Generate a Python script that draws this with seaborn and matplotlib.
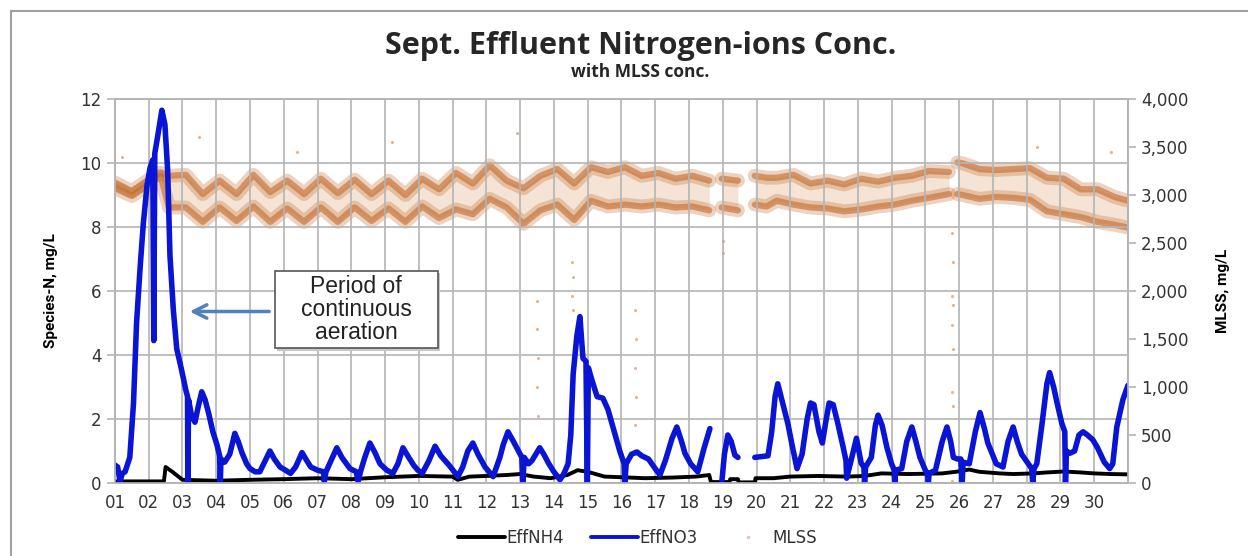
import numpy as np
import pandas as pd
import seaborn as sns
import matplotlib.pyplot as plt
from matplotlib.lines import Line2D
from matplotlib.patches import Rectangle
from matplotlib.ticker import StrMethodFormatter

# EffNO3, mg/L  (day of month, value); NaN = gap in record
no3_day = [1.00, 1.08, 1.15, 1.22, 1.30, 1.44, 1.55, 1.64, 1.75, 1.84, 1.95, 2.04, 2.12, 2.15, 2.18,
           2.26, 2.39, 2.48, 2.56, 2.63, 2.73, 2.83, 2.98, 3.10, 3.15, 3.16, 3.18, 3.27, 3.37, 3.47,
           3.57, 3.67, 3.77, 3.90, 4.02, 4.10, 4.12, 4.14, 4.25, 4.40, 4.55, 4.65, 4.76, 4.90, 5.00,
           5.15, 5.29, 5.45, 5.59, 5.72, 5.89, 6.05, 6.20, 6.35, 6.54, 6.68, 6.80, 7.00, 7.18, 7.20,
           7.25, 7.40, 7.57, 7.72, 7.96, 8.15, 8.20, 8.27, 8.40, 8.55, 8.70, 8.85, 9.05, 9.23, 9.38,
           9.53, 9.70, 9.85, 9.97, 10.10, 10.30, 10.48, 10.65, 10.90, 11.05, 11.16, 11.30, 11.45, 11.60,
           11.75, 11.96, 12.20, 12.40, 12.50, 12.64, 12.80, 13.05, 13.08, 13.12, 13.25, 13.35, 13.58,
           13.70, 13.85, 14.00, 14.18, 14.30, 14.42, 14.50, 14.57, 14.68, 14.77, 14.86, 14.95, 14.99,
           15.02, 15.13, 15.28, 15.45, 15.60, 15.80, 15.95, 16.08, 16.10, 16.14, 16.30, 16.46, 16.60,
           16.80, 17.00, 17.14, 17.30, 17.50, 17.64, 17.78, 17.88, 18.05, 18.26, 18.45, 18.62, 18.80,
           18.97, 19.05, 19.15, 19.25, 19.36, 19.45, 19.70,
           19.95, 20.34, 20.45, 20.55, 20.63, 20.75, 20.93, 21.05, 21.20, 21.35, 21.50, 21.60, 21.70,
           21.85, 21.95, 22.05, 22.15, 22.27, 22.40, 22.56, 22.65, 22.67, 22.80, 22.96, 23.10, 23.18,
           23.20, 23.23, 23.40, 23.52, 23.60, 23.72, 23.86, 24.00, 24.08, 24.10, 24.12, 24.30, 24.45,
           24.60, 24.72, 24.84, 25.00, 25.07, 25.09, 25.11, 25.30, 25.50, 25.64, 25.75, 25.83, 25.95,
           26.05, 26.09, 26.12, 26.30, 26.48, 26.62, 26.75, 26.85, 27.10, 27.30, 27.45, 27.60, 27.72,
           27.85, 28.05, 28.15, 28.18, 28.22, 28.30, 28.45, 28.60, 28.68, 28.80, 28.88, 29.04, 29.13,
           29.15, 29.18, 29.28, 29.42, 29.55, 29.67, 29.80, 29.96, 30.10, 30.30, 30.46, 30.55, 30.67,
           30.85, 31.00]
no3_val = [0.56, 0.50, 0.05, 0.30, 0.35, 0.80, 2.5, 5.0, 6.8, 8.1, 9.3, 9.85, 10.1, 4.45, 10.3,
           10.8, 11.65, 11.2, 9.8, 7.1, 5.4, 4.2, 3.5, 2.9, 2.7, 0.0, 2.6, 2.1, 1.9, 2.4,
           2.85, 2.6, 2.2, 1.6, 1.2, 0.85, 0.0, 0.75, 0.65, 0.9, 1.55, 1.3, 0.95, 0.6, 0.45,
           0.35, 0.35, 0.7, 1.0, 0.75, 0.5, 0.4, 0.3, 0.5, 0.95, 0.7, 0.5, 0.4, 0.35, 0.05,
           0.35, 0.7, 1.1, 0.8, 0.45, 0.35, 0.05, 0.35, 0.8, 1.25, 0.95, 0.6, 0.4, 0.3, 0.6,
           1.1, 0.8, 0.55, 0.4, 0.3, 0.7, 1.15, 0.85, 0.55, 0.35, 0.2, 0.5, 1.0, 1.25,
           0.9, 0.5, 0.2, 0.8, 1.2, 1.6, 1.3, 0.8, 0.0, 0.8, 0.6, 0.7, 1.1,
           0.9, 0.6, 0.35, 0.1, 0.3, 0.6, 1.5, 3.4, 4.6, 5.2, 3.9, 3.8, 0.0,
           3.6, 3.2, 2.7, 2.65, 2.3, 1.55, 1.0, 0.6, 0.0, 0.6, 0.9, 0.97, 0.85,
           0.75, 0.45, 0.25, 0.7, 1.4, 1.75, 1.3, 0.93, 0.6, 0.35, 1.1, 1.7, np.nan,
           0.0, 0.9, 1.5, 1.3, 0.87, 0.8, np.nan,
           0.8, 0.85, 1.6, 2.7, 3.1, 2.6, 1.85, 1.2, 0.45, 0.9, 2.0, 2.5, 2.45,
           1.6, 1.25, 1.9, 2.5, 2.45, 1.9, 1.15, 0.7, 0.15, 0.7, 1.4, 0.62, 0.5,
           0.0, 0.5, 0.8, 1.8, 2.12, 1.8, 1.12, 0.6, 0.4, 0.0, 0.4, 0.45, 1.3,
           1.75, 1.3, 0.8, 0.4, 0.25, 0.0, 0.3, 0.4, 1.3, 1.75, 1.3, 0.8, 0.75,
           0.75, 0.0, 0.65, 0.6, 1.6, 2.2, 1.7, 1.25, 0.6, 0.5, 1.3, 1.75, 1.3,
           0.9, 0.6, 0.45, 0.0, 0.45, 0.6, 1.8, 3.1, 3.45, 3.0, 2.6, 1.87, 1.6,
           0.0, 1.0, 0.93, 1.0, 1.5, 1.6, 1.5, 1.35, 1.1, 0.65, 0.45, 0.6, 1.75,
           2.6, 3.05]

# EffNH4, mg/L
nh4_day = [1.0, 2.45, 2.5, 2.7, 3.0, 4.0, 5.0, 6.0, 7.0, 8.0, 9.0, 9.5, 10.0, 11.0, 11.15, 11.5,
           12.0, 12.6, 13.0, 13.4, 13.9, 14.4, 14.7, 15.0, 15.5, 16.0, 16.7, 17.5, 18.2, 18.6,
           18.65, 19.2, 19.22, 19.45, 19.47, 19.95, 19.97, 20.5, 21.0, 21.8, 22.7, 23.2, 23.7,
           24.5, 25.5, 25.9, 26.3, 26.6, 27.2, 27.6, 28.2, 28.6, 29.1, 29.6, 30.0, 30.5, 31.0]
nh4_val = [0.05, 0.05, 0.5, 0.35, 0.1, 0.07, 0.1, 0.12, 0.15, 0.12, 0.18, 0.2, 0.22, 0.2, 0.1, 0.2,
           0.22, 0.25, 0.28, 0.2, 0.15, 0.25, 0.4, 0.35, 0.2, 0.18, 0.15, 0.17, 0.2, 0.25,
           0.03, 0.03, 0.12, 0.12, 0.02, 0.02, 0.15, 0.15, 0.2, 0.22, 0.2, 0.22, 0.3,
           0.28, 0.3, 0.35, 0.42, 0.35, 0.3, 0.28, 0.3, 0.33, 0.36, 0.33, 0.3, 0.28, 0.27]

# MLSS, mg/L: upper and lower edges of the two-cluster band
mlss_day = [1.0, 1.5, 2.0, 2.35, 2.6, 3.1, 3.6, 4.1, 4.6, 5.1, 5.6, 6.1, 6.6, 7.1, 7.6, 8.1, 8.6,
            9.1, 9.6, 10.1, 10.6, 11.1, 11.6, 12.1, 12.6, 13.1, 13.6, 14.1, 14.6, 15.1, 15.6,
            16.1, 16.6, 17.1, 17.6, 18.1, 18.6, 18.8, 18.97, 19.45, 19.7, 19.95, 20.3, 20.6, 21.1,
            21.6, 22.1, 22.6, 23.1, 23.6, 24.1, 24.6, 25.1, 25.7, 25.82, 25.95, 26.1, 26.6, 27.1,
            27.6, 28.1, 28.6, 29.1, 29.6, 30.1, 30.6, 31.0]
mlss_hi = [3130, 3040, 3160, 3230, 3200, 3210, 3010, 3150, 3010, 3210, 3030, 3150, 3010, 3170, 3020,
           3160, 3010, 3150, 3000, 3170, 3060, 3230, 3120, 3310, 3150, 3070, 3200, 3270, 3120, 3290,
           3240, 3290, 3200, 3230, 3170, 3200, 3150, np.nan, 3170, 3150, np.nan, 3200, 3180, 3180,
           3210, 3120, 3150, 3110, 3170, 3140, 3180, 3200, 3250, 3240, np.nan, 3340, 3330, 3270,
           3260, 3270, 3280, 3180, 3170, 3060, 3060, 2980, 2940]
mlss_lo = [3070, 2990, 3110, 3200, 2870, 2870, 2720, 2870, 2730, 2880, 2720, 2860, 2720, 2870, 2720,
           2870, 2730, 2860, 2720, 2880, 2760, 2850, 2800, 2960, 2870, 2700, 2840, 2900, 2740, 2940,
           2880, 2900, 2880, 2900, 2870, 2880, 2840, np.nan, 2870, 2840, np.nan, 2900, 2880, 2940,
           2900, 2870, 2860, 2830, 2850, 2880, 2900, 2940, 2970, 3010, np.nan, 3010, 3000, 2960,
           2980, 2970, 2950, 2830, 2800, 2770, 2720, 2690, 2660]

# scattered MLSS readings away from the band
out_day = [1.2, 3.5, 6.4, 9.2, 12.9, 13.5, 13.5, 13.52, 13.5, 13.52, 14.55, 14.57, 14.55, 14.57,
           16.4, 16.42, 16.4, 16.42, 16.4, 16.42, 19.0, 19.02, 25.8, 25.82, 25.8, 25.82, 25.8,
           25.82, 25.8, 25.82, 25.8, 28.3, 30.5]
out_val = [3400, 3600, 3450, 3550, 3650, 1900, 1600, 1300, 1000, 700, 2300, 2150, 1950, 1800,
           1800, 1500, 1200, 900, 600, 300, 2520, 2400, 2600, 2300, 1950, 1850, 1650, 1400, 950,
           800, 25, 3500, 3450]

day_ticks = list(range(1, 31))
day_labels = [f'{d:02d}' for d in day_ticks]


def segments(days, vals):
    seg, s = [], 0
    for v in vals:
        if np.isnan(v):
            s += 1
        seg.append(s)
    return pd.DataFrame({'day': days, 'val': vals, 'seg': seg}).dropna()


sns.set_theme(style='white')
plt.rcParams['font.family'] = ['DejaVu Sans']

fig = plt.figure(figsize=(12.48, 5.56), dpi=100)
ax = fig.add_axes([0.0921, 0.1313, 0.8117, 0.6906])
ax2 = ax.twinx()
ax.set_zorder(ax2.get_zorder() + 1)
ax.patch.set_visible(False)

grid_c = '#b4b4b4'
brown = '#c26a2c'

# MLSS band on right axis
hi = segments(mlss_day, mlss_hi)
lo = segments(mlss_day, mlss_lo)
band = hi.merge(lo, on=['day', 'seg'], suffixes=('_hi', '_lo'))
for s, g in band.groupby('seg'):
    ax2.fill_between(g['day'], g['val_lo'], g['val_hi'], color='#efd2bb', alpha=0.6, lw=0)
for df in (hi, lo):
    sns.lineplot(data=df, x='day', y='val', units='seg', estimator=None, sort=False,
                 ax=ax2, color=brown, lw=10, alpha=0.3)
    sns.lineplot(data=df, x='day', y='val', units='seg', estimator=None, sort=False,
                 ax=ax2, color=brown, lw=4.5, alpha=0.6)
sns.scatterplot(x=out_day, y=out_val, ax=ax2, color=brown, s=5, alpha=0.5, lw=0)

# nitrogen species on left axis
nh4 = pd.DataFrame({'day': nh4_day, 'val': nh4_val})
sns.lineplot(data=nh4, x='day', y='val', ax=ax, color='black', lw=2.8, sort=False)
no3 = segments(no3_day, no3_val)
sns.lineplot(data=no3, x='day', y='val', units='seg', estimator=None, sort=False,
             ax=ax, color='#0a14d4', lw=4)

ax.set_xlim(1, 31)
ax.set_ylim(0, 12)
ax.set_yticks(range(0, 13, 2))
ax.set_xticks(range(1, 32))
ax.set_xticklabels(day_labels + [''])
ax.grid(True, color=grid_c, lw=1.2)
ax2.set_ylim(0, 4000)
ax2.set_yticks(range(0, 4001, 500))
ax2.yaxis.set_major_formatter(StrMethodFormatter('{x:,.0f}'))

for a in (ax, ax2):
    for sp in a.spines.values():
        sp.set_color(grid_c)
        sp.set_linewidth(1.2)
    a.tick_params(colors=grid_c, labelcolor='#333333', labelsize=12, length=6, width=1.2)
ax.tick_params(axis='x', length=4, pad=4)

ax.set_xlabel('')
ax2.set_xlabel('')
lab_font = ['Roboto', 'DejaVu Sans']
ax.set_ylabel('Species-N, mg/L', fontsize=11, fontweight='bold', color='black',
              family=lab_font, labelpad=16)
ax2.set_ylabel('MLSS, mg/L', fontsize=11, fontweight='bold', color='black', rotation=90,
               family=lab_font, labelpad=20)

fig.text(0.513, 0.918, 'Sept. Effluent Nitrogen-ions Conc.', ha='center', va='center',
         fontsize=22, fontweight='bold', family=['Open Sans', 'DejaVu Sans'])
fig.text(0.513, 0.870, 'with MLSS conc.', ha='center', va='center',
         fontsize=12.5, fontweight='bold', family=['Open Sans', 'DejaVu Sans'])

# callout box with shadow
ax.add_patch(Rectangle((5.80, 4.13), 4.82, 2.43, fc='#c8c8c8', ec='none', zorder=5))
ax.add_patch(Rectangle((5.74, 4.21), 4.82, 2.43, fc='white', ec='#555555', lw=1.2, zorder=6))
ax.text(8.15, 5.42, 'Period of\ncontinuous\naeration', ha='center', va='center',
        fontsize=16.5, family=['Liberation Sans', 'DejaVu Sans'], color='#222222',
        linespacing=1.0, zorder=7)
ax.annotate('', xy=(3.13, 5.36), xytext=(5.65, 5.36),
            arrowprops=dict(arrowstyle='->,head_length=0.8,head_width=0.4',
                            color='#4f81bd', lw=2.5))

handles = [Line2D([], [], color='black', lw=2.8),
           Line2D([], [], color='#0a14d4', lw=2.8),
           Line2D([], [], color='#e0c8b8', marker='.', ls='none', markersize=3)]
fig.legend(handles, ['EffNH4', 'EffNO3', 'MLSS'], loc='center', bbox_to_anchor=(0.511, 0.032),
           ncol=3, frameon=False, fontsize=12, handlelength=2.8, columnspacing=1.6,
           handletextpad=0.1, labelcolor='#333333')

fig.patches.append(Rectangle((0.0088, -0.2), 1.2, 1.18, transform=fig.transFigure,
                             fill=False, ec='#a0a0a0', lw=1.5))

fig.savefig('out.png', dpi=100)
